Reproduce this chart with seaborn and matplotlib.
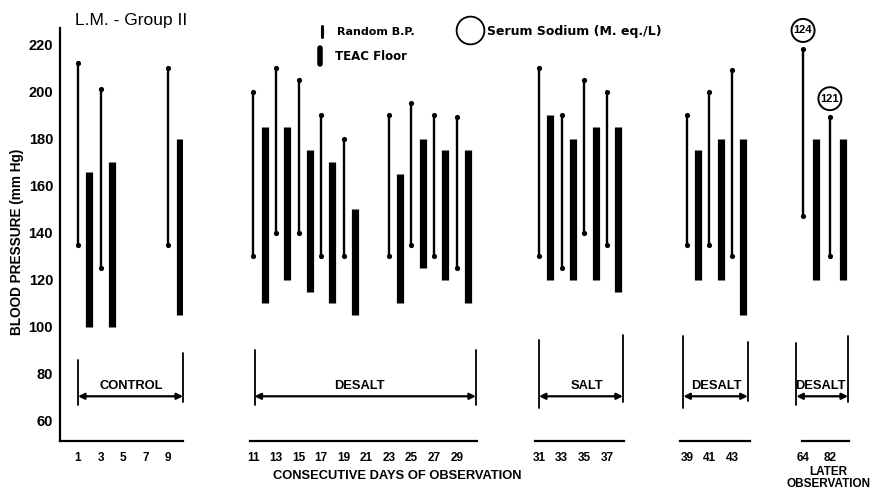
import numpy as np
import pandas as pd
import matplotlib.pyplot as plt
from matplotlib.lines import Line2D
import seaborn as sns

# Random B.P. readings (odd days), mm Hg
random_days = [1, 3, 9, 11, 13, 15, 17, 19, 23, 25, 27, 29, 31, 33, 35, 37, 39, 41, 43]
random_high = [212, 201, 210, 200, 210, 205, 190, 180, 190, 195, 190, 189, 210, 190, 205, 200, 190, 200, 209]
random_low = [135, 125, 135, 130, 140, 140, 130, 130, 130, 135, 130, 125, 130, 125, 140, 135, 135, 135, 130]

# TEAC floor (even days), mm Hg
teac_days = [2, 4, 10, 12, 14, 16, 18, 20, 24, 26, 28, 30, 32, 34, 36, 38, 40, 42, 44]
teac_high = [166, 170, 180, 185, 185, 175, 170, 150, 165, 180, 175, 175, 190, 180, 185, 185, 175, 180, 180]
teac_low = [100, 100, 105, 110, 120, 115, 110, 105, 110, 125, 120, 110, 120, 120, 120, 115, 120, 120, 105]

# later observation
later_labels = ['64', '82']
later_random_high = [218, 189]
later_random_low = [147, 130]
later_teac_high = [180, 180]
later_teac_low = [120, 120]
later_sodium = [124, 121]

# segment of the broken x axis each day belongs to
def seg_of(day):
    if day <= 10:
        return 0
    if day <= 30:
        return 1
    if day <= 38:
        return 2
    return 3

rows = []
for i, d in enumerate(random_days):
    for v in (random_low[i], random_high[i]):
        rows.append(dict(seg=seg_of(d), pos=d, bp=v, kind='random', bar=f'r{d}'))
for i, d in enumerate(teac_days):
    for v in (teac_low[i], teac_high[i]):
        rows.append(dict(seg=seg_of(d), pos=d, bp=v, kind='teac', bar=f't{d}'))
for i, lab in enumerate(later_labels):
    for v in (later_random_low[i], later_random_high[i]):
        rows.append(dict(seg=4, pos=2 * i, bp=v, kind='random', bar=f'r{lab}'))
    for v in (later_teac_low[i], later_teac_high[i]):
        rows.append(dict(seg=4, pos=2 * i + 1, bp=v, kind='teac', bar=f't{lab}'))
df = pd.DataFrame(rows)

sns.set_theme(style='white')
plt.rcParams['font.family'] = ['Liberation Sans', 'DejaVu Sans']
plt.rcParams['font.weight'] = 'bold'

W, H = 871, 499
fig = plt.figure(figsize=(W / 100, H / 100), dpi=100)

def fx(x):
    return x / W

def fy(y):
    return 1 - y / H

# pixel layout of each axis piece: left, width, xlim, spine bounds, ticks, labels, bracket
segments = [
    dict(left=60, width=123, xlim=(-0.6, 10.3), bounds=(-0.6, 10.3),
         ticks=[1, 3, 5, 7, 9], labels=['1', '3', '5', '7', '9'],
         br=(1, 10.3), brl=(67, 86), brr=(68, 89), text='CONTROL', tx=5.7),
    dict(left=250, width=227, xlim=(10.7, 30.8), bounds=(10.7, 30.8),
         ticks=list(range(11, 30, 2)), labels=[str(t) for t in range(11, 30, 2)],
         br=(11.1, 30.7), brl=(67, 90), brr=(67, 90), text='DESALT', tx=20.4),
    dict(left=535, width=89, xlim=(30.65, 38.5), bounds=(30.65, 38.5),
         ticks=[31, 33, 35, 37], labels=['31', '33', '35', '37'],
         br=(31, 38.4), brl=(65.5, 94.5), brr=(68, 96.5), text='SALT', tx=35.2),
    dict(left=680, width=70, xlim=(38.4, 44.6), bounds=(38.4, 44.6),
         ticks=[39, 41, 43], labels=['39', '41', '43'],
         br=(38.7, 44.4), brl=(65.5, 96), brr=(68.5, 93.5), text='DESALT', tx=41.6),
    dict(left=795, width=55, xlim=(-0.6, 3.5), bounds=(-0.05, 3.45),
         ticks=[0, 2], labels=later_labels,
         br=(-0.5, 3.35), brl=(67, 93), brr=(68, 96), text='DESALT', tx=1.3),
]

ylim = (51.5, 227)
for k, s in enumerate(segments):
    ax = fig.add_axes([fx(s['left']), fy(441), fx(s['width']), (441 - 28) / H])
    sub = df[df['seg'] == k]
    rnd = sub[sub['kind'] == 'random']
    tea = sub[sub['kind'] == 'teac']
    sns.lineplot(data=rnd, x='pos', y='bp', units='bar', estimator=None, sort=False,
                 color='black', lw=1.7, ax=ax, legend=False)
    sns.scatterplot(data=rnd, x='pos', y='bp', color='black', s=14, linewidth=0,
                    ax=ax, legend=False, clip_on=False)
    sns.lineplot(data=tea, x='pos', y='bp', units='bar', estimator=None, sort=False,
                 color='black', lw=5.2, solid_capstyle='butt', ax=ax, legend=False)
    ax.set_xlim(*s['xlim'])
    ax.set_ylim(*ylim)
    ax.set_xlabel('')
    ax.set_ylabel('')
    ax.patch.set_alpha(0)
    for side in ('top', 'right'):
        ax.spines[side].set_visible(False)
    ax.spines['bottom'].set_bounds(*s['bounds'])
    ax.spines['bottom'].set_linewidth(1.6)
    ax.spines['bottom'].set_color('black')
    ax.set_xticks(s['ticks'])
    ax.set_xticklabels(s['labels'], fontsize=8.5, fontweight='bold')
    ax.tick_params(axis='x', direction='out', length=3, width=1.5, pad=5, colors='black')
    if k == 0:
        ax.spines['left'].set_linewidth(1.6)
        ax.spines['left'].set_color('black')
        ax.set_yticks(np.arange(60, 221, 20))
        ax.set_yticks(np.arange(70, 221, 20), minor=True)
        ax.set_yticklabels([str(v) for v in range(60, 221, 20)], fontsize=10.5, fontweight='bold')
        ax.tick_params(axis='y', which='major', direction='out', length=4, width=1.5, pad=1, colors='black')
        ax.tick_params(axis='y', which='minor', direction='out', length=3, width=1.5, colors='black')
    else:
        ax.spines['left'].set_visible(False)
        ax.set_yticks([])

    # bracket with double arrow and phase label
    x0, x1 = s['br']
    ax.plot([x0, x0], s['brl'], color='black', lw=1.3, clip_on=False)
    ax.plot([x1, x1], s['brr'], color='black', lw=1.3, clip_on=False)
    ax.annotate('', xy=(x1, 70.5), xytext=(x0, 70.5),
                arrowprops=dict(arrowstyle='<|-|>', color='black', lw=1.6,
                                mutation_scale=9, shrinkA=0, shrinkB=0),
                annotation_clip=False)
    ax.text(s['tx'], 75, s['text'], ha='center', va='center', fontsize=9.3,
            fontweight='bold', color='black')

    if k == 4:
        for i, na in enumerate(later_sodium):
            ax.annotate(str(na), xy=(2 * i, later_random_high[i]), xytext=(0, 13.5),
                        textcoords='offset points', ha='center', va='center',
                        fontsize=8, fontweight='bold', color='black',
                        bbox=dict(boxstyle='circle,pad=0.2', fc='white', ec='black', lw=1.4),
                        annotation_clip=False)

# titles and labels
fig.text(fx(75), fy(20), 'L.M. - Group II', fontsize=12.5, fontweight='normal',
         ha='left', va='center', color='black')
fig.text(fx(17), fy(242), 'BLOOD PRESSURE (mm Hg)', rotation=90, fontsize=9.8,
         fontweight='bold', ha='center', va='center', color='black')
fig.text(fx(397), fy(476), 'CONSECUTIVE DAYS OF OBSERVATION', fontsize=9.3,
         fontweight='bold', ha='center', va='center', color='black')
fig.text(fx(828), fy(478), 'LATER\nOBSERVATION', fontsize=8.5, fontweight='bold',
         ha='center', va='center', linespacing=0.95, color='black')

# legend drawn by hand
legend_font = ['DejaVu Sans']
fig.add_artist(Line2D([fx(322), fx(322)], [fy(26), fy(37)], color='black', lw=2.2))
fig.text(fx(337), fy(32), 'Random B.P.', fontsize=8, fontweight='bold', family=legend_font,
         ha='left', va='center', color='black')
fig.add_artist(Line2D([fx(320), fx(320)], [fy(48), fy(64)], color='black', lw=4))
fig.text(fx(335), fy(57), 'TEAC Floor', fontsize=8.5, fontweight='bold', family=legend_font,
         ha='left', va='center', color='black')
fig.add_artist(Line2D([fx(470)], [fy(30)], marker='o', ms=20, mfc='none', mec='black', mew=1.3))
fig.text(fx(487), fy(31), 'Serum Sodium (M. eq./L)', fontsize=9, fontweight='bold',
         family=legend_font, ha='left', va='center', color='black')

fig.savefig('out.png', dpi=100)
